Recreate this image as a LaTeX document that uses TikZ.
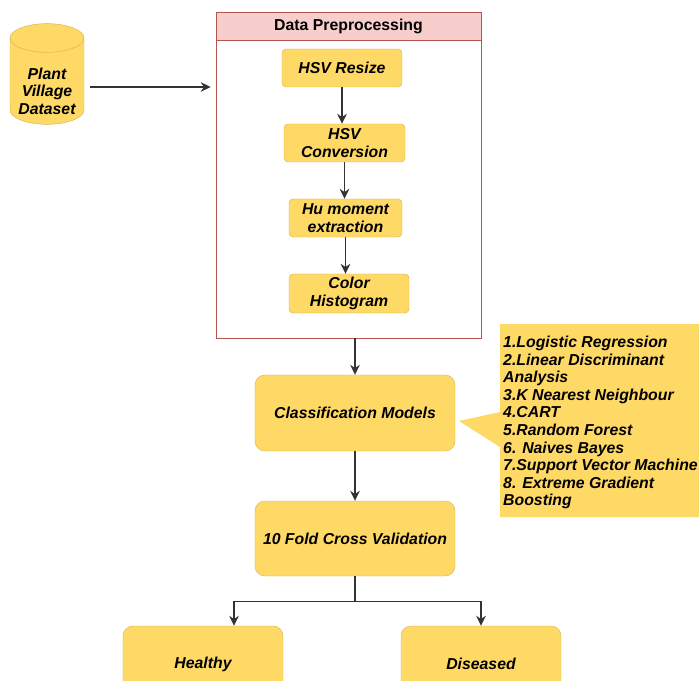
\documentclass[tikz,border=0pt]{standalone}
\usepackage{fontspec}
\setmainfont{Liberation Sans}
\usepackage{tikz}
\usetikzlibrary{arrows.meta}

\definecolor{boxfill}{HTML}{FFD966}
\definecolor{boxline}{HTML}{D6B656}
\definecolor{prepline}{HTML}{B85450}
\definecolor{prepfill}{HTML}{F8CECC}

\begin{document}
\begin{tikzpicture}[x=0.03cm, y=-0.03cm,
    stepbox/.style={rectangle, rounded corners=0.12cm, fill=boxfill, draw=boxline,
        line width=0.4pt, align=center, inner sep=1pt,
        font=\fontsize{13.5}{15.5}\selectfont\bfseries\itshape},
    bigbox/.style={stepbox, rounded corners=0.3cm, minimum width=6cm},
    flow/.style={-{Stealth[length=3mm,width=2.9mm,inset=1mm]}, line width=0.9pt, draw=black!80}]
  \clip (0,0) rectangle (699,681);

  % input data (cylinder)
  \path[fill=boxfill, draw=boxline, line width=0.4pt] (10,38) -- (10,110)
      arc[start angle=180, end angle=360, x radius=1.11cm, y radius=0.43cm] -- (84,38)
      arc[start angle=0, end angle=180, x radius=1.11cm, y radius=0.43cm] -- cycle;
  \draw[boxline, line width=0.4pt] (10,38) arc[start angle=180, end angle=360, x radius=1.11cm, y radius=0.43cm];
  \node (dataset) [align=center, inner sep=0pt,
      font=\fontsize{13.5}{15}\selectfont\bfseries\itshape] at (47,91) {Plant\\Village\\Dataset};

  % preprocessing block
  \node (prep) [draw=prepline, line width=0.6pt, minimum width=7.95cm, minimum height=9.78cm] at (348.5,175) {};
  \node (prephead) [draw=prepline, fill=prepfill, line width=0.6pt, anchor=north,
      minimum width=7.95cm, minimum height=0.84cm,
      font=\fontsize{13.5}{15}\selectfont\bfseries] at (prep.north) {Data Preprocessing};
  \node (resize) [stepbox, minimum width=3.6cm, minimum height=1.14cm] at (342,68) {HSV Resize};
  \node (conv) [stepbox, minimum width=3.63cm, minimum height=1.14cm] at (344.5,143) {HSV\\Conversion};
  \node (hu) [stepbox, minimum width=3.39cm, minimum height=1.14cm] at (345.5,218) {Hu moment\\extraction};
  \node (hist) [stepbox, minimum width=3.6cm, minimum height=1.17cm] at (349,293.5) {Color\\Histogram};

  % models and validation
  \node (cls) [bigbox, minimum height=2.28cm] at (355,413) {Classification Models};
  \node (kfold) [bigbox, minimum height=2.25cm] at (355,538.5) {10 Fold Cross Validation};
  \node (healthy) [bigbox, minimum width=4.8cm, minimum height=2.28cm] at (203,664) {Healthy};
  \node (diseased) [bigbox, minimum width=4.8cm, minimum height=2.28cm] at (481,664) {Diseased};

  % callout with the list of models
  \fill[boxfill] (500,324) -- (710,324) -- (710,517) -- (500,517) -- (500,447)
      -- (459,421) -- (500,412) -- cycle;
  \node (models) [anchor=north west, align=left, inner sep=0pt,
      font=\fontsize{13.5}{15}\selectfont\bfseries\itshape] at (503,336)
      {1.Logistic Regression\\2.Linear Discriminant\\Analysis\\3.K Nearest Neighbour\\4.CART\\
       5.Random Forest\\6. Naives Bayes\\7.Support Vector Machine\\8. Extreme Gradient\\Boosting};

  % connectors
  \coordinate (dsout) at (90,87);
  \draw[flow, shorten >=0.15cm] (dsout) -- (dsout -| prep.west);
  \draw[flow] (resize.south) -- (resize.south |- conv.north);
  \draw[flow] (conv.south) -- (conv.south |- hu.north);
  \draw[flow] (hu.south) -- (hu.south |- hist.north);
  \draw[flow] (cls.north |- prep.south) -- (cls.north);
  \draw[flow] (cls) -- (kfold);
  \draw[flow] (kfold.south) -- ++(0,25) -| ([xshift=0.93cm]healthy.north);
  \draw[flow] (kfold.south) -- ++(0,25) -| (diseased.north);
\end{tikzpicture}
\end{document}
